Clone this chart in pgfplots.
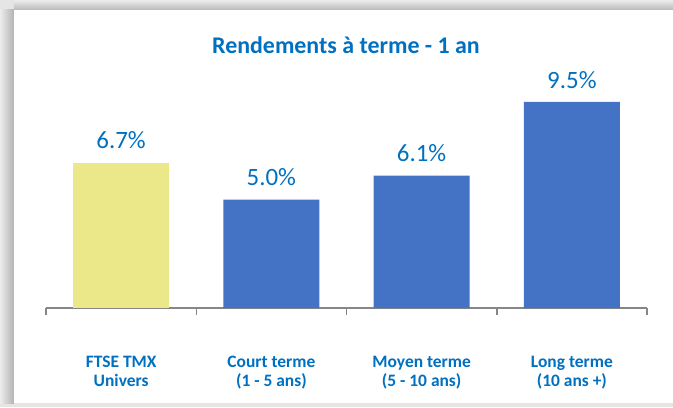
\documentclass[border=0pt]{standalone}
\usepackage{pgfplots}
\pgfplotsset{compat=1.18}
\usepackage{fontspec}
\setmainfont{Carlito}
\definecolor{barblue}{RGB}{68,114,196}
\definecolor{baryellow}{RGB}{235,232,138}
\definecolor{txtblue}{RGB}{0,112,192}
\definecolor{axgray}{RGB}{134,134,134}
\begin{document}
\begin{tikzpicture}[x=1bp,y=1bp]
\fill[gray!20] (0,0) rectangle (673,407);
\shade[left color=gray!15,right color=gray!60] (0,4) rectangle (14,397);
\shade[top color=gray!15,bottom color=gray!55] (14,397) rectangle (673,407);
\fill[white] (14,4) rectangle (673,397);
\node[font=\bfseries\fontsize{24}{26}\selectfont, text=txtblue] at (346,362) {Rendements à terme - 1 an};
\begin{axis}[
  at={(46bp,99bp)}, anchor=south west,
  scale only axis, width=601bp, height=217bp,
  xmin=-0.5, xmax=3.5, ymin=0, ymax=10,
  axis y line=none, axis x line*=bottom,
  axis line style={axgray, line width=1.5bp, -},
  xtick={0,1,2,3},
  xticklabels={{FTSE TMX\\Univers},{Court terme\\(1 - 5 ans)},{Moyen terme\\(5 - 10 ans)},{Long terme\\(10 ans +)}},
  major x tick style={draw=none},
  minor xtick={-0.5,0.5,1.5,2.5,3.5},
  minor x tick style={axgray, line width=1.5bp},
  minor tick length=7bp,
  xtick align=outside,
  x tick label style={font=\bfseries\fontsize{17.5}{19}\selectfont, text=txtblue, align=center, yshift=-40bp},
  ybar, bar width=96bp, bar shift=0pt,
  /pgf/number format/assume math mode=true,
  nodes near coords={\pgfmathprintnumber[fixed,fixed zerofill,precision=1,assume math mode=true]{\pgfplotspointmeta}\%},
  every node near coord/.append style={font=\fontsize{25}{28}\selectfont, text=txtblue, yshift=10bp},
  clip=false,
]
\addplot[fill=baryellow, draw=none] coordinates {(0,6.7)};
\addplot[fill=barblue, draw=none] coordinates {(1,5.0) (2,6.1) (3,9.5)};
\end{axis}
\end{tikzpicture}
\end{document}
